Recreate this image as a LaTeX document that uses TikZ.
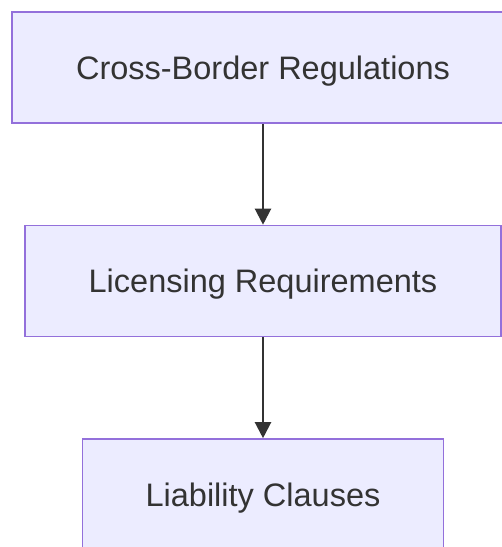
\documentclass[tikz,border=0pt]{standalone}
\usepackage{fontspec}
\setmainfont{Liberation Sans}
\usetikzlibrary{arrows.meta}
\definecolor{boxfill}{HTML}{ECECFF}
\definecolor{boxline}{HTML}{9370DB}
\definecolor{inkgray}{HTML}{333333}
\begin{document}
\begin{tikzpicture}[
    x=1pt, y=-1pt,
    regbox/.style={rectangle, draw=boxline, fill=boxfill, line width=1.6pt, minimum height=111pt, text depth=0pt, align=center, text=inkgray, font=\fontsize{32.5}{39}\selectfont},
    arrow/.style={-{Triangle[length=16pt, width=16pt]}, line width=2.2pt, draw=inkgray}
]
    \useasboundingbox (0,0) rectangle (502,547);
    \clip (0,0) rectangle (502,547);

    % Step 1
    \node[regbox, minimum width=502pt] (cross) at (263, 67.5) {Cross-Border Regulations};

    % Step 2
    \node[regbox, minimum width=476pt] (lic) at (263, 281) {Licensing Requirements};
    \draw[arrow] (cross) -- (lic);

    % Step 3
    \node[regbox, minimum width=361pt] (liab) at (263, 494.5) {Liability Clauses};
    \draw[arrow] (lic) -- (liab);
\end{tikzpicture}
\end{document}
